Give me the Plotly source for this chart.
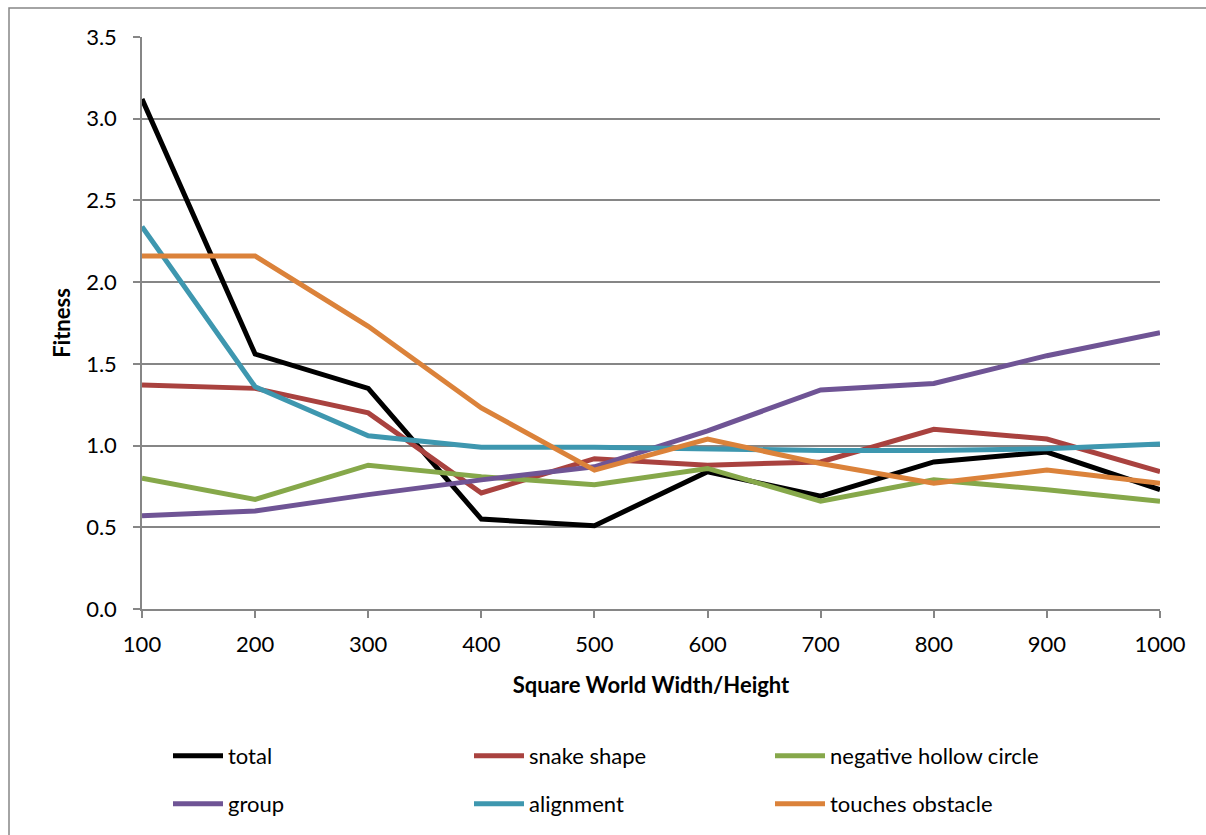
import plotly.graph_objects as go

x_vals = [100, 200, 300, 400, 500, 600, 700, 800, 900, 1000]

total = [3.12, 1.56, 1.35, 0.55, 0.51, 0.84, 0.69, 0.90, 0.96, 0.73]
snake_shape = [1.37, 1.35, 1.20, 0.71, 0.92, 0.88, 0.90, 1.10, 1.04, 0.84]
neg_hollow_circle = [0.80, 0.67, 0.88, 0.81, 0.76, 0.86, 0.66, 0.79, 0.73, 0.66]
group = [0.57, 0.60, 0.70, 0.79, 0.87, 1.09, 1.34, 1.38, 1.55, 1.69]
alignment = [2.34, 1.36, 1.06, 0.99, 0.99, 0.98, 0.97, 0.97, 0.98, 1.01]
touches_obstacle = [2.16, 2.16, 1.73, 1.23, 0.85, 1.04, 0.89, 0.77, 0.85, 0.77]

series_names = ["total", "snake shape", "negative hollow circle",
                "group", "alignment", "touches obstacle"]
series_values = [total, snake_shape, neg_hollow_circle,
                 group, alignment, touches_obstacle]
series_colors = ["#000000", "#A9423F", "#86A84A", "#6F5495", "#3E97AF", "#DB823A"]
legend_rows = ["legend", "legend", "legend", "legend2", "legend2", "legend2"]

y_ticks = [0.0, 0.5, 1.0, 1.5, 2.0, 2.5, 3.0, 3.5]

FONT = "Lato"
FS = 22

fig = go.Figure()
for name, vals, col, lg in zip(series_names, series_values, series_colors, legend_rows):
    fig.add_trace(go.Scatter(x=x_vals, y=vals, name=name, mode="lines",
                             line=dict(color=col, width=5), legend=lg))

W, H = 1206, 835
L, R, T, B = 142, 46, 37, 225
pw = W - L - R
ph = H - T - B

def px_x(p):
    return (p - L) / pw

def px_y(p):
    return (H - B - p) / ph

fig.add_shape(type="rect", xref="paper", yref="paper",
              x0=px_x(9), x1=px_x(1215), y0=px_y(845), y1=px_y(8),
              line=dict(color="#868686", width=1.5), fillcolor="rgba(0,0,0,0)",
              layer="below")

legend_common = dict(orientation="h", xanchor="left", yanchor="middle",
                     entrywidth=236, entrywidthmode="pixels",
                     font=dict(family=FONT, size=FS), itemwidth=50,
                     bgcolor="rgba(0,0,0,0)")

fig.update_layout(
    width=W, height=H,
    margin=dict(l=L, r=R, t=T, b=B),
    paper_bgcolor="white", plot_bgcolor="white",
    font=dict(family=FONT, size=FS, color="#000000"),
    showlegend=True,
    legend=dict(x=px_x(168), y=px_y(756), **legend_common),
    legend2=dict(x=px_x(168), y=px_y(804), **legend_common),
    xaxis=dict(range=[100, 1000], tickvals=x_vals,
               ticktext=[str(v) for v in x_vals],
               showgrid=False, showline=True, linecolor="#868686", linewidth=1.5,
               ticks="outside", ticklen=7, tickcolor="#868686", tickwidth=1.5,
               ticklabelstandoff=8,
               zeroline=False,
               title=dict(text="<b>Square World Width/Height</b>",
                          font=dict(family=FONT, size=FS), standoff=21)),
    yaxis=dict(range=[0, 3.5], tickvals=y_ticks,
               ticktext=[f"{v:.1f}" for v in y_ticks],
               showgrid=True, gridcolor="#868686", gridwidth=1.5,
               showline=True, linecolor="#868686", linewidth=1.5,
               ticks="outside", ticklen=7, tickcolor="#868686", tickwidth=1.5,
               ticklabelstandoff=12,
               zeroline=False,
               title=dict(text="<b>Fitness</b>",
                          font=dict(family=FONT, size=FS), standoff=9)),
)

fig.write_html("out.html")
